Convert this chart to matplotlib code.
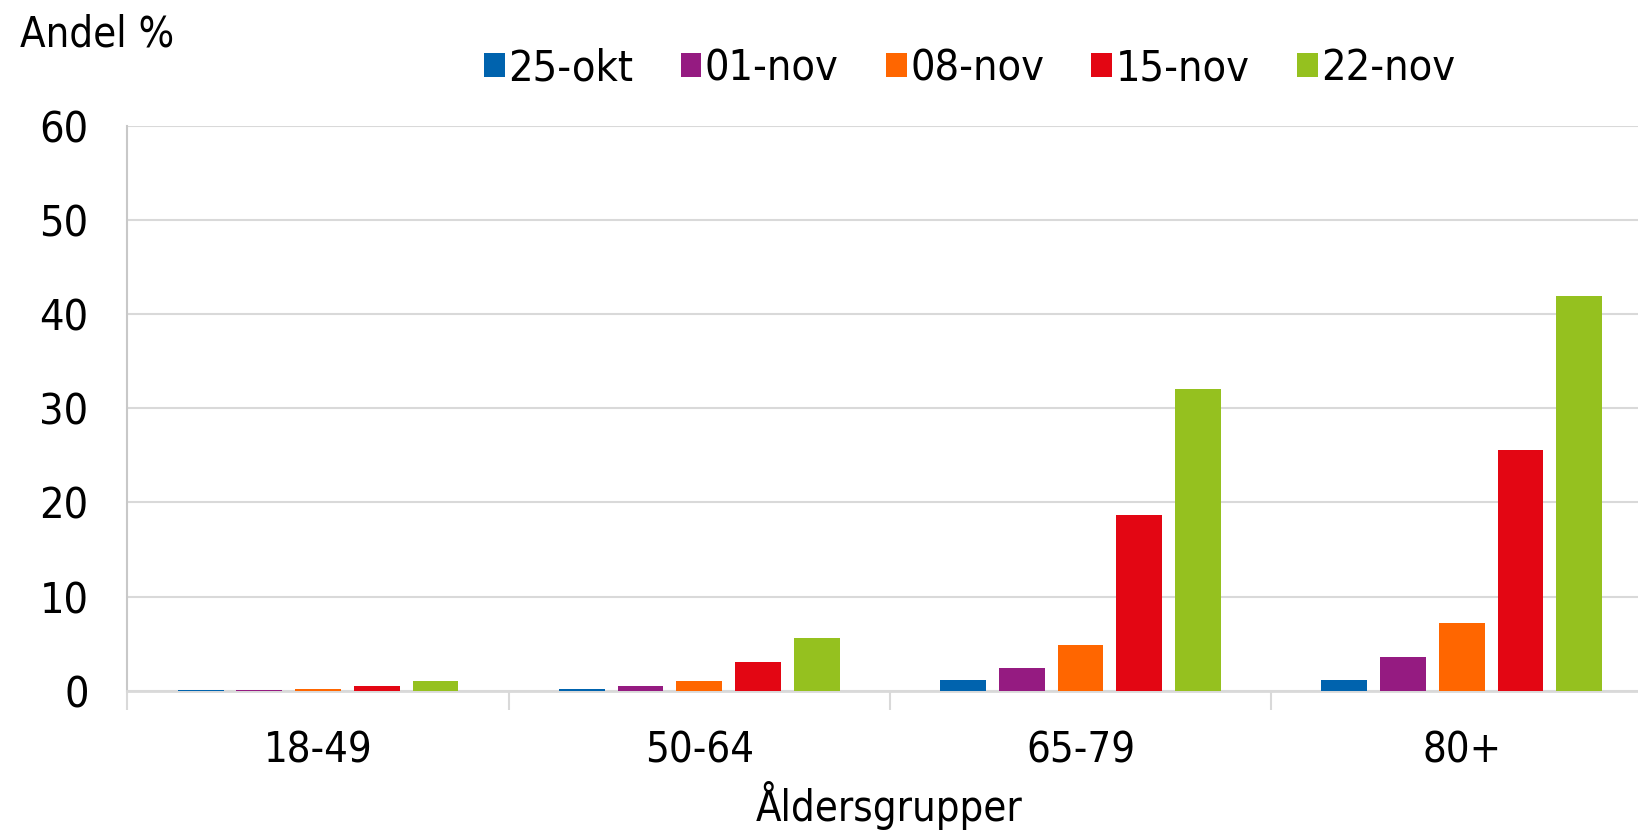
import numpy as np
import matplotlib.pyplot as plt

# Data
groups = ["18-49", "50-64", "65-79", "80+"]
dates = ["25-okt", "01-nov", "08-nov", "15-nov", "22-nov"]
v_25okt = [0.07, 0.2, 1.07, 1.07]
v_01nov = [0.07, 0.5, 2.45, 3.6]
v_08nov = [0.18, 1.03, 4.8, 7.2]
v_15nov = [0.5, 3.06, 18.7, 25.6]
v_22nov = [1.03, 5.55, 32.1, 42.0]
series = [v_25okt, v_01nov, v_08nov, v_15nov, v_22nov]
colors = ["#0063AE", "#951B81", "#FF6600", "#E30613", "#95C11F"]

plt.rcParams['font.family'] = ['DejaVu Sans']
plt.rcParams['font.stretch'] = 'condensed'

fig = plt.figure(figsize=(16.38, 8.31), dpi=100)
# plot area runs past the right edge, as in the original
ax = fig.add_axes([0.0778, 0.169, 0.931, 0.679])

x = np.arange(len(groups))
step = 0.154
width = 0.12
for i, (vals, col, lab) in enumerate(zip(series, colors, dates)):
    ax.bar(x + (i - 2) * step, vals, width=width, color=col, label=lab, zorder=3)

ax.set_xlim(-0.5, 3.5)
ax.set_ylim(0, 60)
ax.set_yticks(range(0, 61, 10))
ax.grid(axis='y', color='#d9d9d9', linewidth=1.5, zorder=0)

for s in ['top', 'right']:
    ax.spines[s].set_visible(False)
ax.spines['left'].set_color('#c8c8c8')
ax.spines['left'].set_linewidth(1.5)
ax.spines['bottom'].set_color('#d9d9d9')
ax.spines['bottom'].set_linewidth(2)

ax.set_xticks(x)
ax.set_xticklabels(groups, fontsize=30)
ax.set_xticks([-0.5, 0.5, 1.5, 2.5], minor=True)
ax.tick_params(axis='x', which='major', length=0, pad=28)
ax.tick_params(axis='x', which='minor', length=14, width=1.5, color='#d9d9d9')
ax.tick_params(axis='y', length=0, labelsize=31, pad=28)

fig.text(0.543, 0.012, "Åldersgrupper", fontsize=30, ha='center', va='baseline')
fig.text(0.012, 0.958, "Andel %", fontsize=30, va='center', ha='left')

fig.legend(loc='center', bbox_to_anchor=(0.592, 0.918), ncol=5, frameon=False,
           fontsize=31, handlelength=0.48, handleheight=0.48, handletextpad=0.08,
           columnspacing=1.1, borderaxespad=0)

fig.savefig("out.png", dpi=100)
